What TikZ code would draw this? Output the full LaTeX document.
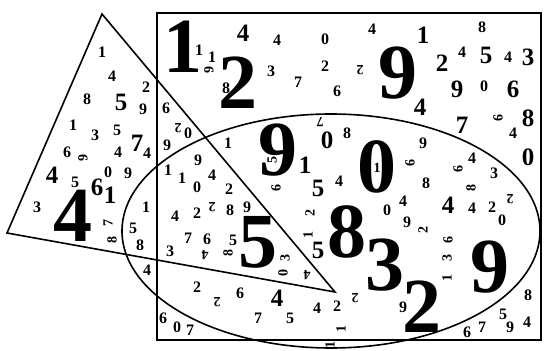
\documentclass[tikz,border=0pt]{standalone}
\usepackage{fontspec}
\setmainfont{Liberation Serif}
\begin{document}
\begin{tikzpicture}[x=1pt,y=-1pt,
  dg/.style={inner sep=0pt, outer sep=0pt, anchor=center},
  sd/.style={dg, font=\fontsize{16}{16}\selectfont\bfseries},
  td/.style={dg, font=\fontsize{14}{14}\selectfont\bfseries},
  md/.style={dg, font=\fontsize{25}{25}\selectfont\bfseries},
  bd/.style={dg, font=\fontsize{78}{78}\selectfont\bfseries},
  frame/.style={draw=black, line width=1.6pt}]
\useasboundingbox (0,0) rectangle (545,350);
\fill[white] (0,0) rectangle (545,350);
% shapes
\coordinate (tA) at (102,14);
\coordinate (tB) at (335,292);
\coordinate (tC) at (7,233);
\coordinate (rA) at (157,13);
\coordinate (rB) at (541,340);
\coordinate (eC) at (331,231);
\draw[frame] (rA) rectangle (rB);
\draw[frame, line join=miter] (tA) -- (tB) -- (tC) -- cycle;
\draw[frame] (eC) ellipse [x radius=209, y radius=117];
% small digits
\foreach \px/\py/\d [count=\i] in {
 102/52/1, 112/76/4, 87/99/8, 146/87/2, 143/109/9, 166/108/6,
 73/125/1, 95/135/3, 117/130/5, 147/153/4, 118/152/4, 67/152/6,
 108/172/0, 128/173/9, 75/182/5, 37/207/3, 146/207/1, 133/228/5,
 140/245/8, 147/270/4,
 199/50/1, 212/57/1, 277/40/4, 325/39/0, 226/88/8, 271/71/3,
 298/82/7, 325/66/2, 337/91/6, 372/29/4, 482/27/8, 462/52/4,
 508/57/4, 484/86/0, 188/133/0, 167/145/9, 228/143/1, 198/160/9,
 168/170/1, 182/178/1, 197/187/0, 212/175/4, 229/189/2, 175/216/4,
 197/213/2, 230/210/8, 247/207/9, 188/238/7, 207/239/6, 233/240/5,
 170/251/3, 197/287/2, 240/293/6, 258/318/7, 290/318/5, 317/308/4,
 337/306/2, 163/318/6, 177/327/0, 190/330/7, 339/181/4, 347/133/8,
 423/143/9, 426/183/8, 472/158/4, 494/173/3, 472/208/4, 492/207/2,
 502/220/0, 387/210/0, 403/201/4, 407/222/9, 513/133/4, 403/307/9,
 528/295/8, 503/314/5, 510/327/9, 527/322/4, 467/332/6, 482/327/7}
 \node[sd] (s\i) at (\px,\py) {\d};
% medium digits
\foreach \px/\py/\d [count=\i] in {
 121/102/5, 137/143/7, 52/175/4, 97/187/6, 110/195/1, 243/33/4,
 423/35/1, 442/63/2, 486/55/5, 528/57/3, 457/89/9, 513/89/6,
 420/107/4, 462/125/7, 528/118/8, 528/157/0, 305/165/1, 327/140/0,
 318/188/5, 318/250/5, 448/205/4, 277/298/4}
 \node[md] (m\i) at (\px,\py) {\d};
% big digits
\foreach \px/\py/\d [count=\i] in {
 183/47/1, 238/83/2, 398/73/9, 278/150/9, 377/167/0, 347/232/8,
 385/265/3, 422/307/2, 490/267/9, 258/242/5, 73/216/4}
 \node[bd] (b\i) at (\px,\py) {\d};
\node[td] (one0) at (377,168) {1};
% rotated digits
\foreach \px/\py/\d/\r [count=\i] in {
 209/70/6/-90, 360/70/2/180, 178/128/2/180, 83/158/6/-90,
 108/223/7/90, 112/240/8/90, 272/160/5/90, 276/188/6/90,
 320/122/7/180, 410/163/6/90, 458/169/6/90, 471/188/8/90,
 510/199/2/180, 212/207/2/180, 205/255/4/180, 228/253/8/90,
 217/302/2/180, 310/213/2/90, 308/235/1/90, 285/258/3/90,
 283/273/0/90, 307/275/4/180, 355/298/2/180, 341/329/1/90,
 330/345/1/90, 423/230/2/90, 448/240/6/90, 447/258/3/90,
 447/278/1/90, 498/118/6/90}
 \node[td, rotate=\r] (r\i) at (\px,\py) {\d};
\end{tikzpicture}
\end{document}
